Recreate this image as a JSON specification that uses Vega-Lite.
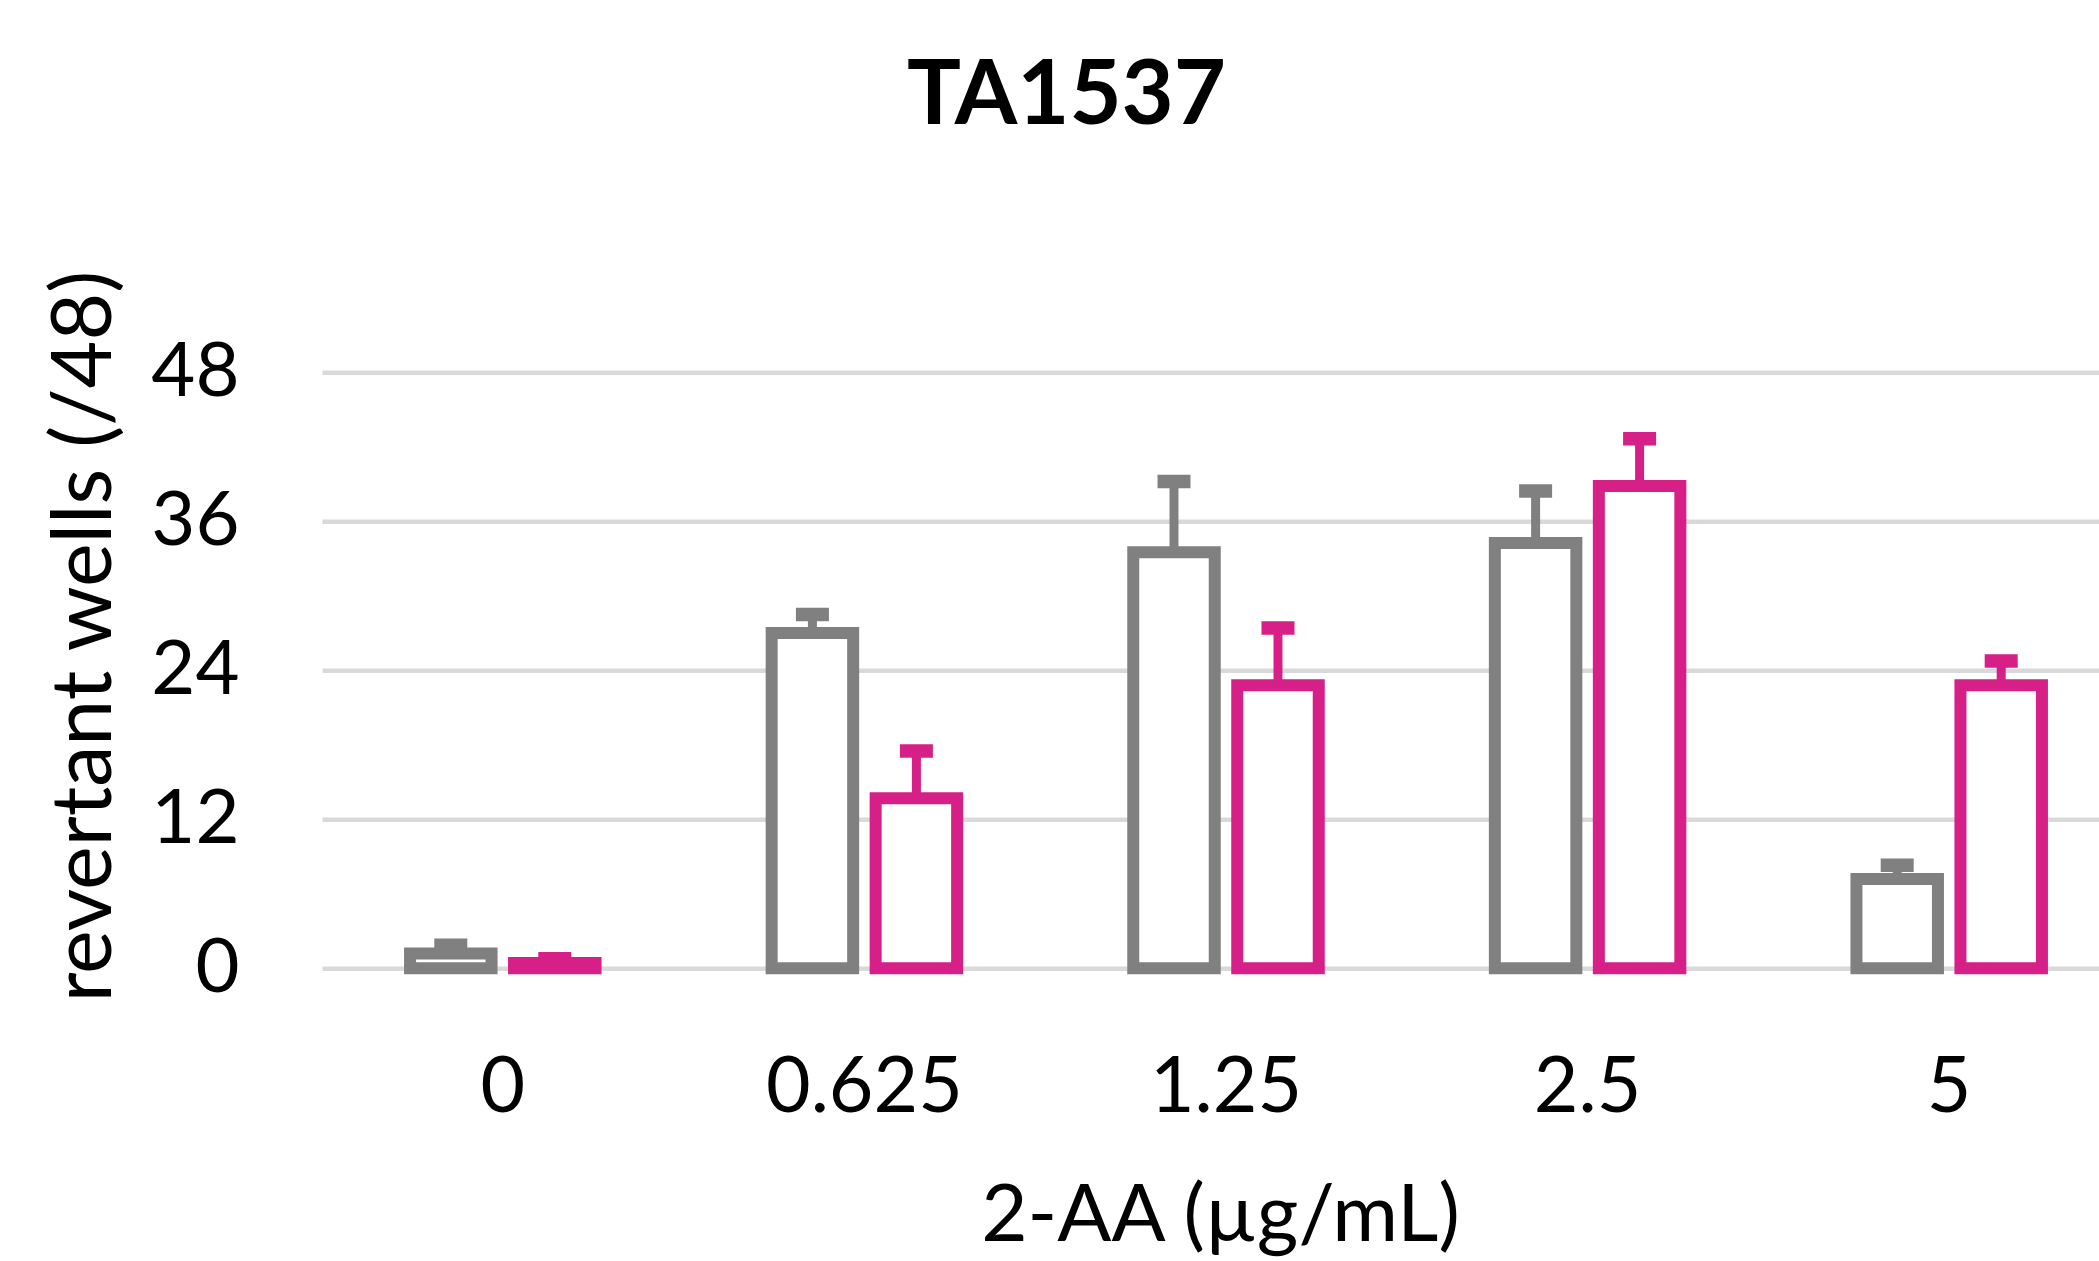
{
  "$schema": "https://vega.github.io/schema/vega-lite/v6.json",
  "width": 1779,
  "height": 596,
  "autosize": {"type": "none"},
  "padding": {"left": 320, "top": 372.3, "right": 0, "bottom": 292.7},
  "background": "white",
  "title": {"text": "TA1537", "font": "Lato", "fontSize": 90, "fontWeight": "bold", "color": "#000000", "anchor": "middle", "frame": "group", "baseline": "alphabetic", "offset": 55, "dx": -143},
  "data": {"values": [
    {"dose": "0", "series": "S1", "mean": 1.2, "upper": 1.86},
    {"dose": "0", "series": "S2", "mean": 0.43, "upper": 0.77},
    {"dose": "0.625", "series": "S1", "mean": 27.0, "upper": 28.5},
    {"dose": "0.625", "series": "S2", "mean": 13.7, "upper": 17.5},
    {"dose": "1.25", "series": "S1", "mean": 33.5, "upper": 39.2},
    {"dose": "1.25", "series": "S2", "mean": 22.8, "upper": 27.4},
    {"dose": "2.5", "series": "S1", "mean": 34.25, "upper": 38.45},
    {"dose": "2.5", "series": "S2", "mean": 38.85, "upper": 42.65},
    {"dose": "5", "series": "S1", "mean": 7.2, "upper": 8.3},
    {"dose": "5", "series": "S2", "mean": 22.8, "upper": 24.75}
  ]},
  "encoding": {
    "x": {"field": "dose", "type": "nominal", "sort": ["0", "0.625", "1.25", "2.5", "5"],
      "scale": {"range": [2, 1810], "paddingInner": 0, "paddingOuter": 0},
      "axis": {"labelAngle": 0, "domain": false, "ticks": false, "tickSize": 0, "grid": false, "labelPadding": 82,
        "labelFont": "Lato", "labelFontSize": 77, "labelColor": "#000000", "labelOverlap": false, "labelLimit": 0,
        "title": "2-AA (µg/mL)", "titleFont": "Lato", "titleFontSize": 80, "titleFontWeight": "normal", "titleColor": "#000000",
        "titleX": 900, "titleY": 272.4, "titleAlign": "center", "titleBaseline": "alphabetic"}},
    "xOffset": {"field": "series", "type": "nominal", "sort": ["S1", "S2"], "scale": {"paddingInner": 0.2163, "paddingOuter": 0.8468}}
  },
  "layer": [
    {
      "mark": {"type": "bar", "fill": "white", "strokeWidth": 12},
      "encoding": {
        "y": {"field": "mean", "type": "quantitative", "title": "revertant wells (/48)",
          "scale": {"domain": [0, 48], "nice": false, "zero": true},
          "axis": {"values": [0, 12, 24, 36, 48], "grid": true, "gridColor": "#d9d9d9", "gridWidth": 4.5, "domain": false, "ticks": false, "tickSize": 0,
            "labelPadding": 81, "labelFont": "Lato", "labelFontSize": 76, "labelColor": "#000000", "labelFlush": false, "labelOverlap": false,
            "titleFont": "Lato", "titleFontSize": 82.5, "titleFontWeight": "normal", "titleColor": "#000000", "titleAngle": -90, "titleLimit": 0,
            "titleX": -210, "titleY": 263.7, "titleAlign": "center", "titleBaseline": "alphabetic"}},
        "stroke": {"field": "series", "type": "nominal", "scale": {"domain": ["S1", "S2"], "range": ["#808080", "#d61f87"]}, "legend": null}
      }
    },
    {
      "mark": {"type": "rule", "strokeWidth": 9},
      "encoding": {
        "y": {"field": "mean", "type": "quantitative", "title": "revertant wells (/48)"},
        "y2": {"field": "upper"},
        "color": {"field": "series", "type": "nominal", "scale": {"domain": ["S1", "S2"], "range": ["#808080", "#d61f87"]}, "legend": null}
      }
    },
    {
      "mark": {"type": "tick", "size": 33, "thickness": 13.5, "opacity": 1},
      "encoding": {
        "y": {"field": "upper", "type": "quantitative", "title": "revertant wells (/48)"},
        "color": {"field": "series", "type": "nominal", "scale": {"domain": ["S1", "S2"], "range": ["#808080", "#d61f87"]}, "legend": null}
      }
    }
  ],
  "config": {"view": {"stroke": null}}
}
